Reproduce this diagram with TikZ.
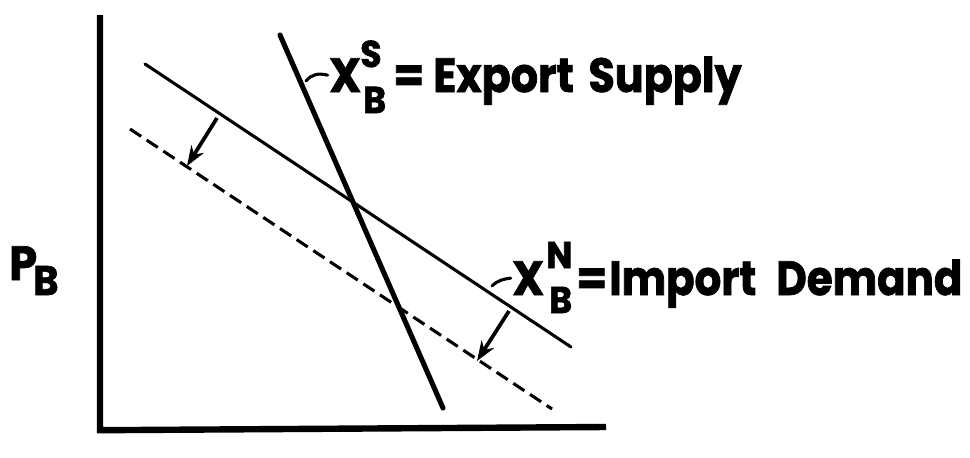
\documentclass[tikz,border=0pt]{standalone}
\usepackage{fontspec}
\setmainfont{Poppins}[FakeStretch=0.93,BoldFeatures={FakeBold=1.6}]
\usetikzlibrary{arrows.meta}
\begin{document}
\begin{tikzpicture}[x=0.75pt,y=-0.75pt,
  axis/.style={line width=4.8pt},
  curve/.style={line width=2.3pt,line cap=round},
  supply/.style={line width=3.8pt,line cap=round},
  shifted/.style={line width=2.3pt,dash pattern=on 10pt off 5pt},
  shiftarrow/.style={line width=2.8pt,-{Stealth[length=15pt,width=11pt]}},
  big/.style={inner sep=0pt,font=\fontsize{36}{40}\selectfont\bfseries},
  small/.style={inner sep=0pt,font=\fontsize{28}{32}\selectfont\bfseries}]
\useasboundingbox (0,0) rectangle (970,457);
% axes
\coordinate (top) at (100,15);
\coordinate (origin) at (100,427);
\coordinate (right) at (606,427);
\draw[axis] (top) -- ([yshift=-2.4pt]origin) -- (right);
% lines
\coordinate (d1) at (145,64);
\coordinate (d2) at (571,347);
\coordinate (n1) at (130,129);
\coordinate (n2) at (552,409);
\coordinate (s1) at (280,35);
\coordinate (s2) at (443,408);
\draw[curve] (d1) -- (d2);
\draw[shifted] (n1) -- (n2);
\draw[supply] (s1) -- (s2);
% shift arrows
\coordinate (a1s) at (217,118);
\coordinate (a1e) at (187,166);
\coordinate (a2s) at (509,311);
\coordinate (a2e) at (477,361);
\draw[shiftarrow] (a1s) -- (a1e);
\draw[shiftarrow] (a2s) -- (a2e);
% export supply label
\node[big,anchor=base west] (xs) at (329,92) {X};
\node[small,anchor=base west] (xsS) at (360,67) {S};
\node[small,anchor=base west] (xsB) at (363,113) {B};
\node[big,anchor=base west] (eq1) at (393,92) {=};
\node[big,anchor=base west] (es) at (433,92) {\scalebox{0.96}[1]{Export\hspace{11.5pt}Supply}};
\draw[curve] (306,81) .. controls (312,74) and (318,73) .. ([xshift=-1pt]xs.west);
% import demand label
\node[big,anchor=base west] (xn) at (512,295) {X};
\node[small,anchor=base west] (xnN) at (546,268) {N};
\node[small,anchor=base west] (xnB) at (549,313) {B};
\node[big,anchor=base west] (eq2) at (576,295) {=};
\node[big,anchor=base west] (id) at (609,295) {\scalebox{0.94}[1]{Import\hspace{16pt}Demand}};
\draw[curve] (492,286) .. controls (498,280) and (504,279) .. ([xshift=-1pt]xn.west);
% axis label
\node[big,anchor=base west] (p) at (9,280) {P};
\node[small,anchor=base west,font=\fontsize{31}{34}\selectfont\bfseries] (pb) at (33,295) {B};
\end{tikzpicture}
\end{document}
